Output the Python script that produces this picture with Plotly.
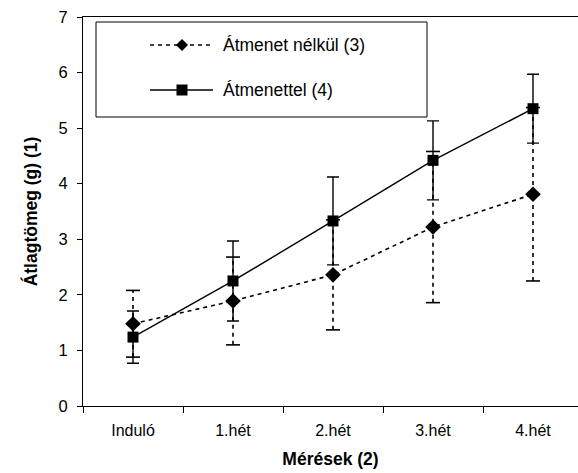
import plotly.graph_objects as go

categories = ["Induló", "1.hét", "2.hét", "3.hét", "4.hét"]
s1_name = "Átmenet nélkül (3)"
s1_mean = [1.48, 1.89, 2.36, 3.22, 3.81]
s1_err = [0.60, 0.79, 0.99, 1.36, 1.56]
s2_name = "Átmenettel (4)"
s2_mean = [1.24, 2.25, 3.33, 4.42, 5.35]
s2_err = [0.47, 0.72, 0.79, 0.71, 0.62]
y_ticks = [0, 1, 2, 3, 4, 5, 6, 7]

W, H = 578, 473
L, R, T, B = 83, 0, 17, 67
FONT = "Liberation Sans, Arial, sans-serif"

def px(x):
    return (x - L) / (W - L - R)

def py(y):
    return (H - B - y) / (H - T - B)

fig = go.Figure()

# dashed error bars for series 1
ex, ey = [], []
for c, m, e in zip(categories, s1_mean, s1_err):
    ex += [c, c, None]
    ey += [m - e, m + e, None]
fig.add_trace(go.Scatter(x=ex, y=ey, mode="lines", line=dict(color="black", width=1.6, dash="4px,4px"),
                         showlegend=False, hoverinfo="skip"))
fig.add_trace(go.Scatter(x=categories + categories,
                         y=[m - e for m, e in zip(s1_mean, s1_err)] + [m + e for m, e in zip(s1_mean, s1_err)],
                         mode="markers", marker=dict(symbol="line-ew", size=10, line=dict(color="black", width=1.6)),
                         showlegend=False, hoverinfo="skip"))

fig.add_trace(go.Scatter(x=categories, y=s1_mean, name=s1_name, mode="lines+markers",
                         line=dict(color="black", width=1.6, dash="4px,4px"),
                         marker=dict(symbol="diamond", size=12, color="black"), showlegend=False))

fig.add_trace(go.Scatter(x=categories, y=s2_mean, name=s2_name, mode="lines+markers",
                         line=dict(color="black", width=1.4),
                         marker=dict(symbol="square", size=11, color="black"),
                         error_y=dict(type="data", array=s2_err, visible=True, color="black", thickness=1.4, width=6),
                         showlegend=False))

# legend (manual, matching the boxed layout)
shapes = [
    dict(type="rect", xref="paper", yref="paper", x0=px(96), x1=px(427), y0=py(117), y1=py(22),
         line=dict(color="black", width=1), fillcolor="white", layer="below"),
    dict(type="line", xref="paper", yref="paper", x0=px(150), x1=px(213), y0=py(45), y1=py(45),
         line=dict(color="black", width=1.6, dash="4px,4px")),
    dict(type="line", xref="paper", yref="paper", x0=px(150), x1=px(213), y0=py(90), y1=py(90),
         line=dict(color="black", width=1.4)),
    dict(type="path", xref="paper", yref="paper", xsizemode="pixel", ysizemode="pixel",
         xanchor=px(182), yanchor=py(45), path="M0,-6 L6,0 L0,6 L-6,0 Z",
         fillcolor="black", line=dict(color="black", width=0)),
    dict(type="path", xref="paper", yref="paper", xsizemode="pixel", ysizemode="pixel",
         xanchor=px(182), yanchor=py(90), path="M-5.5,-5.5 L5.5,-5.5 L5.5,5.5 L-5.5,5.5 Z",
         fillcolor="black", line=dict(color="black", width=0)),
]
annotations = [
    dict(text=s1_name, xref="paper", yref="paper", x=px(221), y=py(45), xanchor="left", yanchor="middle",
         showarrow=False, font=dict(family=FONT, size=17.5, color="black")),
    dict(text=s2_name, xref="paper", yref="paper", x=px(221), y=py(90), xanchor="left", yanchor="middle",
         showarrow=False, font=dict(family=FONT, size=17.5, color="black")),
]

fig.update_layout(
    width=W, height=H, margin=dict(l=L, r=R, t=T, b=B),
    paper_bgcolor="white", plot_bgcolor="white",
    font=dict(family=FONT, size=16, color="black"),
    shapes=shapes, annotations=annotations, showlegend=False,
    xaxis=dict(type="category", categoryorder="array", categoryarray=categories,
               range=[-0.5, 4.45], showgrid=False, zeroline=False,
               showline=True, linecolor="black", linewidth=1, mirror=True,
               ticks="outside", tickson="boundaries", ticklen=6, tickcolor="black",
               tickfont=dict(size=16), ticklabelstandoff=10,
               title=dict(text="<b>Mérések (2)</b>", font=dict(size=17.5), standoff=14)),
    yaxis=dict(range=[0, 7], tickvals=y_ticks, showgrid=False, zeroline=False,
               showline=True, linecolor="black", linewidth=1,
               ticks="outside", ticklen=5, tickcolor="black",
               tickfont=dict(size=16.5), ticklabelstandoff=6,
               title=dict(text="<b>Átlagtömeg (g) (1)</b>", font=dict(size=17.5), standoff=16)),
)

fig.write_html("out.html")
